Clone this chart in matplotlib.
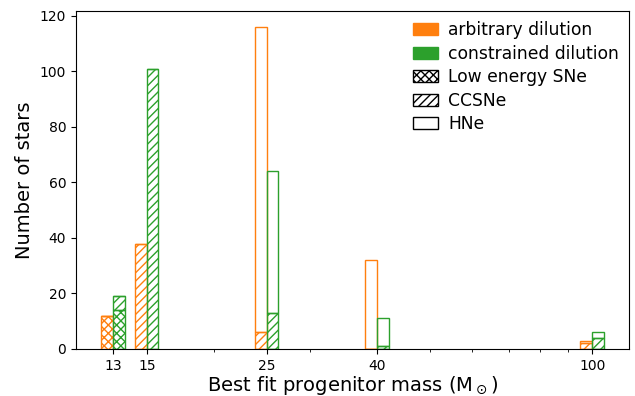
import matplotlib
matplotlib.use("Agg")
import matplotlib.pyplot as plt
from matplotlib.patches import Patch
from matplotlib.ticker import FixedLocator, FixedFormatter, NullFormatter
import numpy as np

# Data
masses = [13, 15, 25, 40, 100]
mass_labels = ["13", "15", "25", "40", "100"]
arb_low = [12, 0, 0, 0, 0]
arb_cc = [0, 38, 6, 0, 2]
arb_hn = [0, 0, 110, 32, 1]
con_low = [14, 0, 0, 0, 0]
con_cc = [5, 101, 13, 1, 4]
con_hn = [0, 0, 51, 10, 2]

orange = "#ff7f0e"
green = "#2ca02c"

fig = plt.figure(figsize=(6.35, 3.96), dpi=100)
ax = fig.add_axes([76 / 635, 1 - 349 / 396, (629 - 76) / 635, (349 - 11) / 396])

m = np.array(masses, dtype=float)
frac = 0.05


def stack(left, width, low, cc, hn, color):
    low = np.array(low, float)
    cc = np.array(cc, float)
    hn = np.array(hn, float)
    ax.bar(left, low, width, align="edge", fill=False, edgecolor=color,
           hatch="xxxx", linewidth=1)
    ax.bar(left, cc, width, bottom=low, align="edge", fill=False,
           edgecolor=color, hatch="////", linewidth=1)
    ax.bar(left, hn, width, bottom=low + cc, align="edge", fill=False,
           edgecolor=color, linewidth=1)


stack(m * (1 - frac), m * frac, arb_low, arb_cc, arb_hn, orange)
stack(m, m * frac, con_low, con_cc, con_hn, green)

ax.set_xscale("log")
ax.xaxis.set_major_locator(FixedLocator(masses))
ax.xaxis.set_major_formatter(FixedFormatter(mass_labels))
ax.xaxis.set_minor_formatter(NullFormatter())
ax.tick_params(labelsize=10)

ax.set_xlabel(r"Best fit progenitor mass (M$_\odot$)", fontsize=14, labelpad=1)
ax.set_ylabel("Number of stars", fontsize=14)

handles = [
    Patch(facecolor=orange, edgecolor=orange),
    Patch(facecolor=green, edgecolor=green),
    Patch(facecolor="white", edgecolor="black", hatch="xxxx"),
    Patch(facecolor="white", edgecolor="black", hatch="////"),
    Patch(facecolor="white", edgecolor="black"),
]
labels = ["arbitrary dilution", "constrained dilution", "Low energy SNe",
          "CCSNe", "HNe"]
ax.legend(handles, labels, loc="upper right", frameon=False, fontsize=12.3,
          handlelength=1.45, labelspacing=0.32, handletextpad=0.6,
          borderaxespad=0.2)

fig.savefig("out.png", dpi=100)
